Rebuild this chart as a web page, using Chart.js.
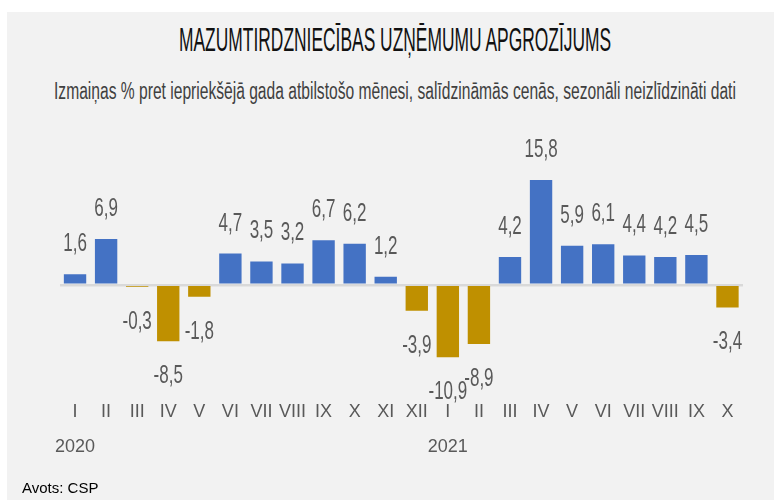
<!DOCTYPE html>
<html>
<head>
<meta charset="utf-8">
<script src="https://cdn.jsdelivr.net/npm/chart.js@4/dist/chart.umd.min.js"></script>
<style>
  body { margin: 0; background: #fff; width: 774px; height: 500px; position: relative; overflow: hidden; }
  #panel { position: absolute; left: 7px; top: 12px; right: 0; bottom: 0; background: #f2f2f2; }
  .head { position: absolute; left: 395px; white-space: nowrap; font-family: "Liberation Sans", sans-serif; }
  .head span { display: inline-block; }
  #title { top: 20px; font-size: 34px; color: #111; }
  #subtitle { top: 78px; font-size: 23px; color: #404040; }
  #wrap { position: absolute; left: 0; top: 0; width: 774px; height: 500px; }
  #source { position: absolute; left: 22px; top: 479px; font: 15px "Liberation Sans", Arial, sans-serif; color: #000; }
</style>
</head>
<body>
<div id="panel"></div>
<div id="title" class="head"><span data-w="432">MAZUMTIRDZNIECĪBAS UZŅĒMUMU APGROZĪJUMS</span></div>
<div id="subtitle" class="head"><span data-w="682">Izmaiņas % pret iepriekšējā gada atbilstošo mēnesi, salīdzināmās cenās, sezonāli neizlīdzināti dati</span></div>
<div id="wrap"><canvas id="retailChart" width="774" height="500"></canvas></div>
<div id="source">Avots: CSP</div>
<script>
// dati
const months = ['I', 'II', 'III', 'IV', 'V', 'VI', 'VII', 'VIII', 'IX', 'X', 'XI', 'XII',
                'I', 'II', 'III', 'IV', 'V', 'VI', 'VII', 'VIII', 'IX', 'X'];
const years = {0: '2020', 12: '2021'};
const changes = [1.6, 6.9, -0.3, -8.5, -1.8, 4.7, 3.5, 3.2, 6.7, 6.2, 1.2, -3.9,
                 -10.9, -8.9, 4.2, 15.8, 5.9, 6.1, 4.4, 4.2, 4.5, -3.4];

// virsraksti saspiesti līdz oriģināla platumam, centrēti ap x=395
document.querySelectorAll('.head').forEach(function(head) {
    const el = head.firstElementChild;
    const k = parseFloat(el.dataset.w) / el.offsetWidth;
    head.style.transformOrigin = '0 0';
    head.style.transform = 'translateX(' + (-el.dataset.w / 2) + 'px) scaleX(' + k + ')';
});

const labels = months.map(function(m, i) {
    return years[i] ? [m, years[i]] : m;
});

// vērtību uzraksti virs / zem stabiņiem
const valueLabels = {
    id: 'valueLabels',
    afterDatasetsDraw: function(chart) {
        const ctx = chart.ctx;
        const meta = chart.getDatasetMeta(0);
        ctx.save();
        ctx.font = '25px "Liberation Sans"';
        ctx.fillStyle = '#595959';
        ctx.textAlign = 'center';
        ctx.textBaseline = 'middle';
        meta.data.forEach(function(bar, i) {
            const v = changes[i];
            const y = v >= 0 ? bar.y - 30 : bar.y + 35;
            ctx.save();
            ctx.translate(bar.x, y);
            ctx.scale(0.68, 1);
            ctx.fillText(String(v).replace('.', ','), 0, 0);
            ctx.restore();
        });
        ctx.restore();
    }
};

new Chart(document.getElementById('retailChart'), {
    type: 'bar',
    data: {
        labels: labels,
        datasets: [{
            data: changes,
            backgroundColor: changes.map(v => v >= 0 ? '#4472c4' : '#bf9000'),
            barPercentage: 0.72,
            categoryPercentage: 1
        }]
    },
    options: {
        responsive: false,
        animation: false,
        layout: { padding: { left: 59.5, right: 31, top: 152, bottom: 26 } },
        scales: {
            x: {
                grid: { display: false },
                border: { display: false },
                ticks: {
                    color: '#595959',
                    padding: 9,
                    maxRotation: 0,
                    autoSkip: false,
                    font: { family: 'Liberation Sans', size: 18, lineHeight: 1.95 }
                }
            },
            y: {
                min: -14,
                max: 20,
                border: { display: false },
                ticks: { display: false, stepSize: 1 },
                grid: {
                    drawTicks: false,
                    lineWidth: 2.5,
                    color: ctx => ctx.tick && ctx.tick.value === 0 ? '#d9d9d9' : 'transparent'
                }
            }
        },
        plugins: {
            legend: { display: false },
            tooltip: { enabled: false }
        }
    },
    plugins: [valueLabels]
});
</script>
</body>
</html>
